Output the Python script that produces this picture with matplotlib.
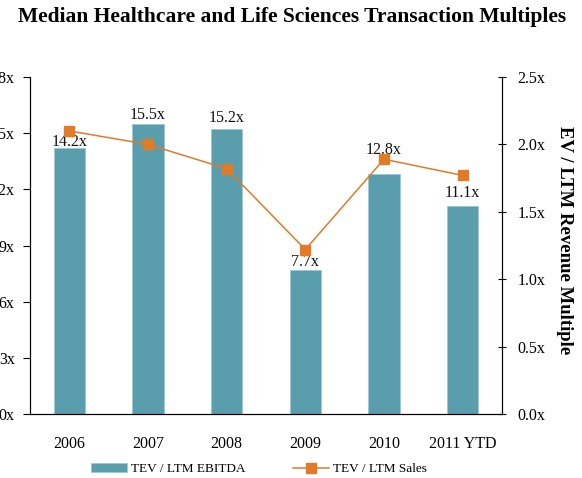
import matplotlib
matplotlib.use("Agg")
import matplotlib.pyplot as plt
from matplotlib.ticker import FuncFormatter

categories = ["2006", "2007", "2008", "2009", "2010", "2011 YTD"]
ebitda = [14.2, 15.5, 15.2, 7.7, 12.8, 11.1]
sales = [2.10, 2.00, 1.82, 1.22, 1.89, 1.77]
left_ticks = [0, 3, 6, 9, 12, 15, 18]
right_ticks = [0.0, 0.5, 1.0, 1.5, 2.0, 2.5]

# label gaps above bar tops (points) - style only
label_offsets = [1.4, 3.6, 5.0, 3.0, 14.4, 6.5]

plt.rcParams['font.family'] = ['Liberation Serif', 'DejaVu Serif']

fig = plt.figure(figsize=(5.82, 4.78), dpi=100)
ax = fig.add_axes([30/582, 1-414/478, 472/582, 337/478])
ax2 = ax.twinx()

bar_color = "#5a9dac"
line_color = "#e07b28"
x = list(range(len(categories)))

ax.bar(x, ebitda, width=0.4, color=bar_color, edgecolor="#9cc8d2", linewidth=0.6,
       label="TEV / LTM EBITDA", zorder=2)

ax2.plot(x, sales, color=line_color, marker="s", markersize=7, linewidth=1.1,
         label="TEV / LTM Sales", zorder=4)

for xi, v, off in zip(x, ebitda, label_offsets):
    ax2.annotate(f"{v:.1f}x", (xi, v / 18 * 2.5), xytext=(0, off), textcoords="offset points",
                 ha="center", va="baseline", fontsize=11.5, color="#111111", zorder=3)

ax.set_xlim(-0.5, 5.5)
ax.set_ylim(0, 18)
ax2.set_ylim(0, 2.5)
ax.set_yticks(left_ticks)
ax2.set_yticks(right_ticks)
ax.yaxis.set_major_formatter(FuncFormatter(lambda v, p: f"{v:.0f}x"))
ax2.yaxis.set_major_formatter(FuncFormatter(lambda v, p: f"{v:.1f}x"))
ax.set_xticks(x)
ax.set_xticklabels(categories)

for a in (ax, ax2):
    a.spines['top'].set_visible(False)
ax.set_zorder(1)
ax2.set_zorder(2)
ax2.patch.set_visible(False)

ax.tick_params(axis='y', direction='out', length=5, labelsize=11.5, pad=6)
ax.tick_params(axis='x', length=0, labelsize=11.5, pad=16)
ax2.tick_params(axis='y', direction='inout', length=6, labelsize=11.5, pad=8)
ax2.set_ylabel("EV / LTM Revenue Multiple", rotation=-90, fontsize=13.5,
               fontweight='bold', labelpad=20)
ax2.yaxis.set_label_coords(1.15, 0.515)
ax.set_ylabel("EV / LTM EBITDA Multiple", fontsize=13.5, fontweight='bold')

fig.suptitle("Median Healthcare and Life Sciences Transaction Multiples",
             x=0.502, y=0.985, fontsize=15.5, fontweight='bold')

h1, l1 = ax.get_legend_handles_labels()
h2, l2 = ax2.get_legend_handles_labels()
fig.legend(h1 + h2, l1 + l2, loc='center', bbox_to_anchor=(0.445, 1-469/478),
           ncol=2, frameon=False, fontsize=9.5, columnspacing=3.6, handlelength=2.7,
           handleheight=0.6, handletextpad=0.3)

fig.savefig("out.png", dpi=100)
